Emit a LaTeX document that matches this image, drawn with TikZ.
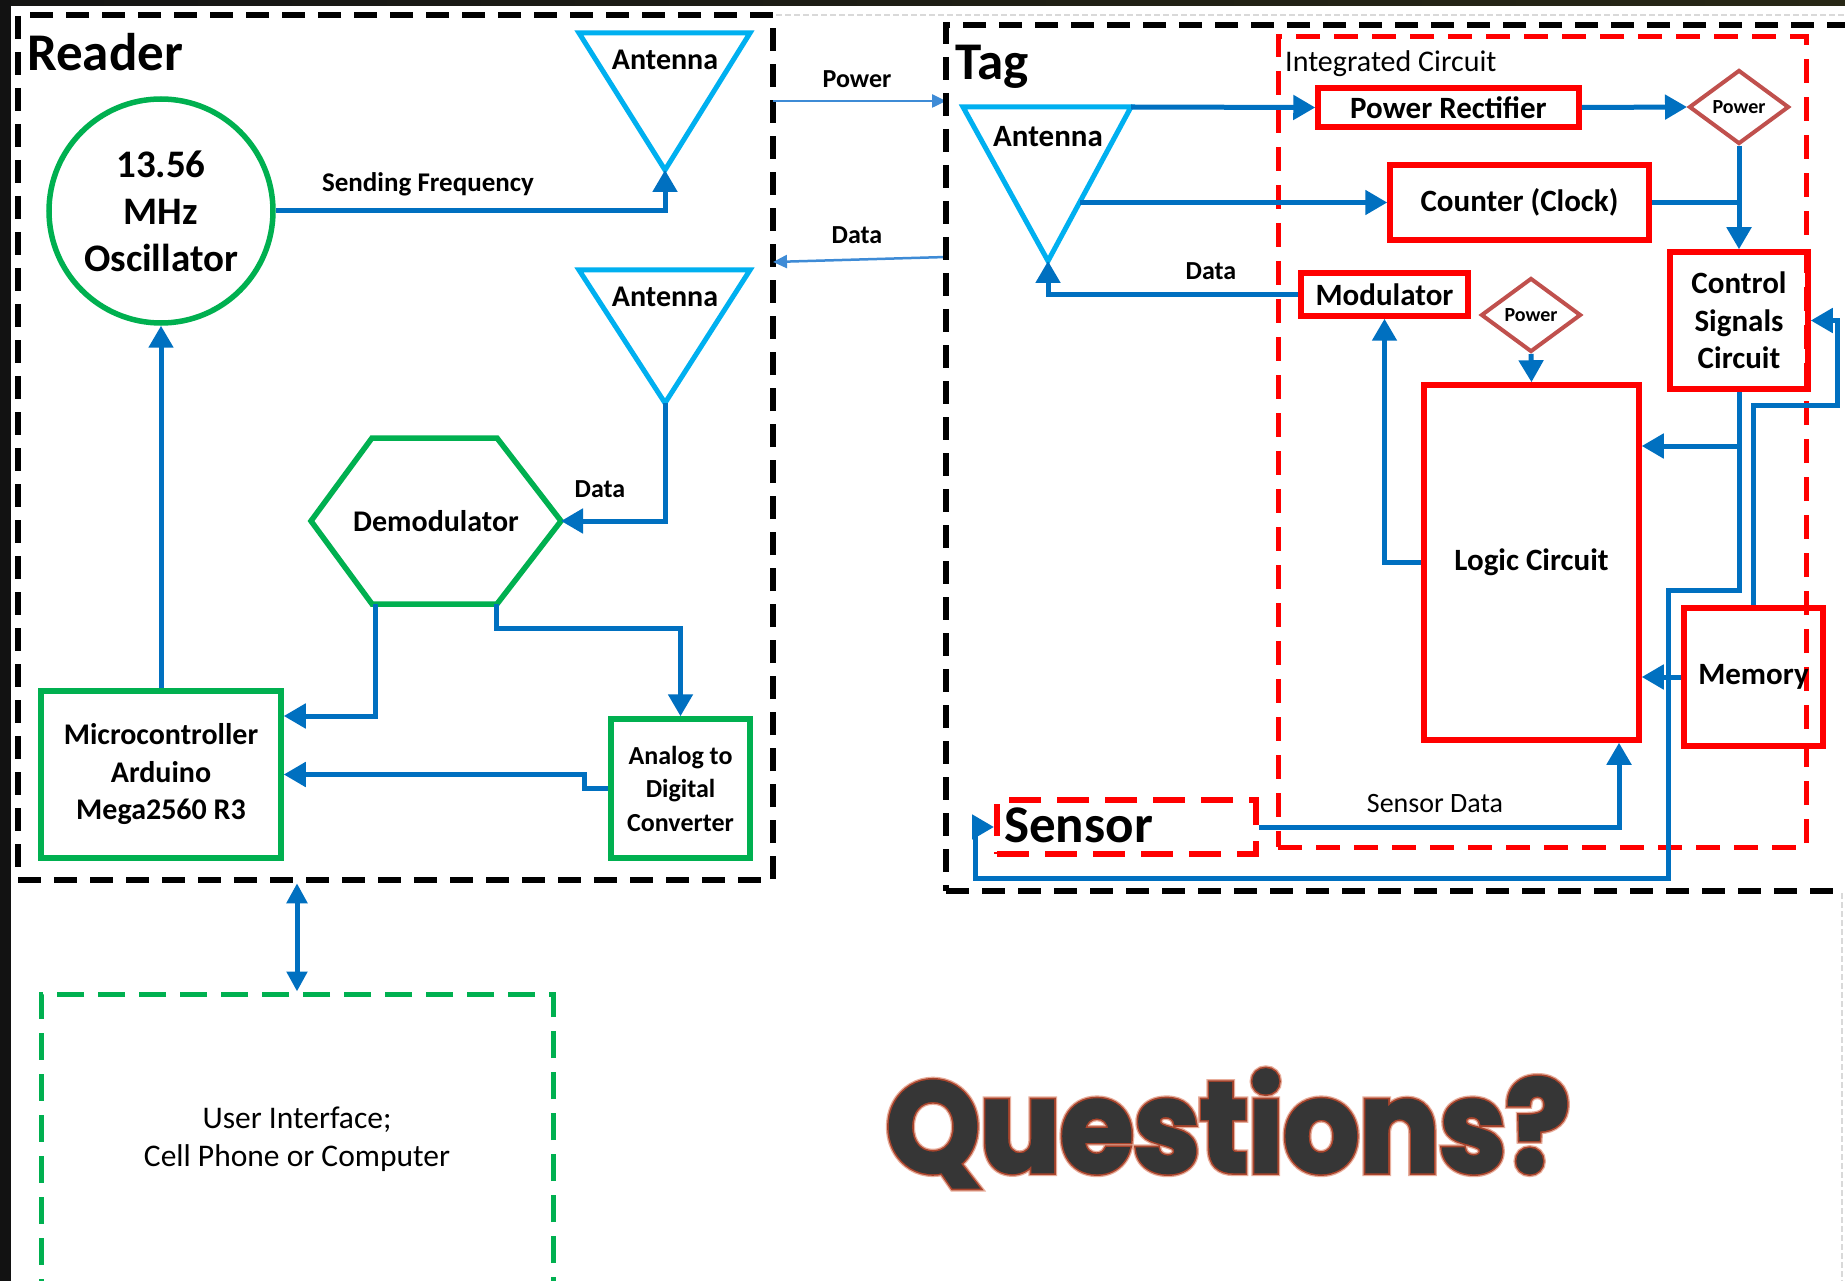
\documentclass[tikz,border=0pt]{standalone}
\usepackage{fontspec}
\setmainfont{Carlito}
\newfontfamily\qfillfont{Poppins}[FakeStretch=0.93, BoldFeatures={FakeBold=2}]
\newfontfamily\qedgefont{Poppins}[FakeStretch=0.93, BoldFeatures={FakeBold=4.5}]
\newfontfamily\qhalofont{Poppins}[FakeStretch=0.93, BoldFeatures={FakeBold=6.5}]
\usetikzlibrary{arrows.meta,shapes.geometric,calc}
\definecolor{flowblue}{HTML}{0070C0}
\definecolor{thinblue}{HTML}{3E8BD6}
\definecolor{rgreen}{HTML}{00B050}
\definecolor{antcyan}{HTML}{00B0F0}
\definecolor{icred}{HTML}{FF0000}
\definecolor{pwbrown}{HTML}{C0504D}
\definecolor{qgray}{HTML}{363636}
\definecolor{qedge}{HTML}{A8442C}
\definecolor{qhalo}{HTML}{E8AE9C}
\newcommand\fsz[2]{\fontsize{#1}{#2}\selectfont}
\tikzset{
  every node/.style={inner sep=0pt},
  flow/.style={draw=flowblue, line width=5pt, -{Triangle[length=22pt,width=24pt]}},
  flowline/.style={draw=flowblue, line width=5pt},
  dflow/.style={draw=flowblue, line width=5pt, {Triangle[length=20pt,width=20pt]}-{Triangle[length=20pt,width=20pt]}},
  thinflow/.style={draw=thinblue, line width=2.5pt, -{Triangle[length=14pt,width=13pt]}},
  sysbox/.style={draw=black, line width=6.5pt, dash pattern=on 23pt off 13pt},
  gbox/.style={draw=rgreen, line width=5.5pt, align=center, font=\bfseries},
  rbox/.style={draw=icred, line width=5.5pt, align=center, font=\bfseries\fsz{31}{37.5}},
  pwr/.style={diamond, draw=pwbrown, line width=4pt, minimum width=100pt, minimum height=74pt, font=\bfseries\fsz{20}{20}},
  antenna/.style={draw=antcyan, line width=5pt, line join=miter},
  lbl/.style={font=\bfseries\fsz{26}{26}, anchor=base},
  title/.style={font=\bfseries\fsz{53}{53}, anchor=base west},
  qtext/.style={anchor=base},
}
\begin{document}
\begin{tikzpicture}[x=1pt,y=-1pt]
\useasboundingbox (0,0) rectangle (1845,1281);
% page background and frame bands
\fill[white] (0,0) rectangle (1845,1281);
\shade[left color=black!92, middle color={rgb,255:red,66;green,64;blue,30}, right color={rgb,255:red,40;green,40;blue,22}] (0,0) rectangle (1845,6);
\fill[black!93] (0,0) rectangle (11,1281);
\draw[black!15, line width=1.5pt, dash pattern=on 6pt off 3pt] (776,15) -- (1845,15);
\draw[black!15, line width=1.5pt, dash pattern=on 6pt off 3pt] (1842,893) -- (1842,1281);

% ---------------- Reader ----------------
\node[sysbox, minimum width=755pt, minimum height=865pt] (reader) at (395.5,447.5) {};
\node[title] (readerlbl) at (27,71) {Reader};

\node[circle, draw=rgreen, line width=5.5pt, minimum size=224pt, align=center,
      font=\bfseries\fsz{39}{47}] (osc) at (161,211) {13.56\\MHz\\Oscillator};

% transmit antenna
\draw[antenna] (579,33) -- (750,33) -- (665,170) -- cycle;
\coordinate (ant1tip) at (665,170);
\node[font=\bfseries\fsz{30}{30}, anchor=base] (ant1lbl) at (665,70) {Antenna};
% receive antenna
\draw[antenna] (579,270) -- (750,270) -- (665,403) -- cycle;
\coordinate (ant2tip) at (665,403);
\node[font=\bfseries\fsz{30}{30}, anchor=base] (ant2lbl) at (665,307) {Antenna};

% demodulator hexagon
\coordinate (demE) at (561,521);
\coordinate (demBL) at (375,604);
\coordinate (demBR) at (496,604);
\draw[draw=rgreen, line width=5.5pt] (311,521) -- (372,438) -- (497,438) -- (561,521) -- (497,604) -- (372,604) -- cycle;
\node[font=\bfseries\fsz{30}{30}] (demod) at (436,521) {Demodulator};

\node[gbox, minimum width=240pt, minimum height=167pt, font=\bfseries\fsz{30}{37.5}] (micro) at (161,774.5) {Microcontroller\\Arduino\\Mega2560 R3};
\node[gbox, minimum width=139pt, minimum height=139pt, font=\bfseries\fsz{26}{33.5}] (adc) at (680.5,788.5) {Analog to\\Digital\\Converter};

\draw[flow] (osc.east) -| (ant1tip);
\node[lbl, font=\bfseries\fsz{27}{27}] (sendlbl) at (428,192) {Sending Frequency};
\draw[flow] (micro.north) -- (osc.south);
\draw[flow] (ant2tip) |- (demE);
\node[lbl] (rxdatalbl) at (600,497) {Data};
\draw[flow] (demBL) |- ([yshift=58.5pt]micro.east);
\draw[flow] (demBR) -- ++(0,24) -| (adc.north);
\draw[flow] (adc.west) -- ++(-24,0) |- (micro.east);

% user interface
\node[draw=rgreen, line width=5pt, dash pattern=on 27pt off 14pt, minimum width=512pt, minimum height=290pt,
      align=center, font=\fsz{31.5}{38}] (ui) at (297,1139) {User Interface;\\Cell Phone or Computer};
\draw[dflow] (ui.north |- reader.south) -- (ui.north);

% ---------------- link between reader and tag ----------------
\coordinate (pwA) at (773,101);
\coordinate (pwB) at (946,101);
\coordinate (daA) at (946,257);
\coordinate (daB) at (773,262);
\draw[thinflow] (pwA) -- (pwB);
\node[lbl] (linkpwr) at (857,88) {Power};
\draw[thinflow] (daA) -- (daB);
\node[lbl] (linkdata) at (857,244) {Data};

% ---------------- Tag ----------------
\node[sysbox, minimum width=919pt, minimum height=866pt] (tag) at (1405.5,458) {};
\node[title] (taglbl) at (955,80) {Tag};
\node[draw=icred, line width=5pt, dash pattern=on 24pt off 14pt, minimum width=528pt, minimum height=810pt] (ic) at (1542,442) {};
\node[font=\fsz{30}{30}, anchor=base west] (iclbl) at (1285,72) {Integrated Circuit};

% tag antenna
\draw[antenna] (963,107) -- (1131,107) -- (1048,261) -- cycle;
\coordinate (tanttr) at (1131,107);
\coordinate (tantr) at (1080,202.5);
\coordinate (tanttip) at (1048,261);
\node[font=\bfseries\fsz{31}{31}, anchor=base] (tantlbl) at (1048,147) {Antenna};

\node[rbox, minimum width=261pt, minimum height=39pt] (prect) at (1448.5,107.5) {Power Rectifier};
\node[pwr] (pw1) at (1739,107) {Power};
\node[rbox, minimum width=259pt, minimum height=75pt] (counter) at (1519.5,202.5) {Counter (Clock)};
\node[rbox, minimum width=167pt, minimum height=43pt] (modul) at (1384.5,294.5) {Modulator};
\node[pwr] (pw2) at (1531,315) {Power};
\node[rbox, minimum width=215pt, minimum height=355pt] (logic) at (1531.5,562.5) {Logic Circuit};
\node[rbox, minimum width=138pt, minimum height=137pt] (ctrl) at (1739,320.5) {Control\\Signals\\Circuit};
\node[rbox, minimum width=139pt, minimum height=138pt] (mem) at (1753.5,677) {Memory};
\node[draw=icred, line width=6pt, dash pattern=on 32pt off 16pt, minimum width=259pt, minimum height=54pt] (sensor) at (1126.5,827) {};
\node[title] (senslbl) at (1004,842) {Sensor};

\draw[flow] (tanttr) -- (prect.west);
\draw[flow] (prect.east) -- (pw1.west);
\draw[flow] (pw1.south) -- (ctrl.north);
\draw[flow] (tantr) -- (counter.west);
\draw[flowline] (counter.east) -- (counter.east -| pw1.south);
\draw[flow] (modul.west) -| (tanttip);
\node[lbl] (tagdatalbl) at (1211,280) {Data};
\draw[flow] (pw2.south) -- (logic.north);
\draw[flow] (logic.west) -| (modul.south);
\coordinate (logicin) at ([yshift=116.5pt]logic.east);
\draw[flow] (ctrl.south |- logicin) -- (logicin);
\draw[flow] (ctrl.south) |- (1668,590) |- (975,878) |- (sensor.west);
\draw[flow] (mem.west) -- (mem.west -| logic.east);
\draw[flow] (mem.north) |- (1837,405) |- (ctrl.east);
\draw[flow] (sensor.east) -| ([xshift=87.5pt]logic.south);
\node[font=\fsz{28}{28}, anchor=base] (sensdatalbl) at (1435,812) {Sensor Data};

% ---------------- closing title: halo, outline, then fill ----------------
\coordinate (qpos) at (1228,1172);
\node[qtext, text=qhalo, font=\qhalofont\bfseries\fsz{128}{128}] (qhalo) at (qpos) {Questions?};
\node[qtext, text=qedge, font=\qedgefont\bfseries\fsz{128}{128}] (qedge) at (qpos) {Questions?};
\node[qtext, text=qgray, font=\qfillfont\bfseries\fsz{128}{128}] (questions) at (qpos) {Questions?};
\end{tikzpicture}
\end{document}
